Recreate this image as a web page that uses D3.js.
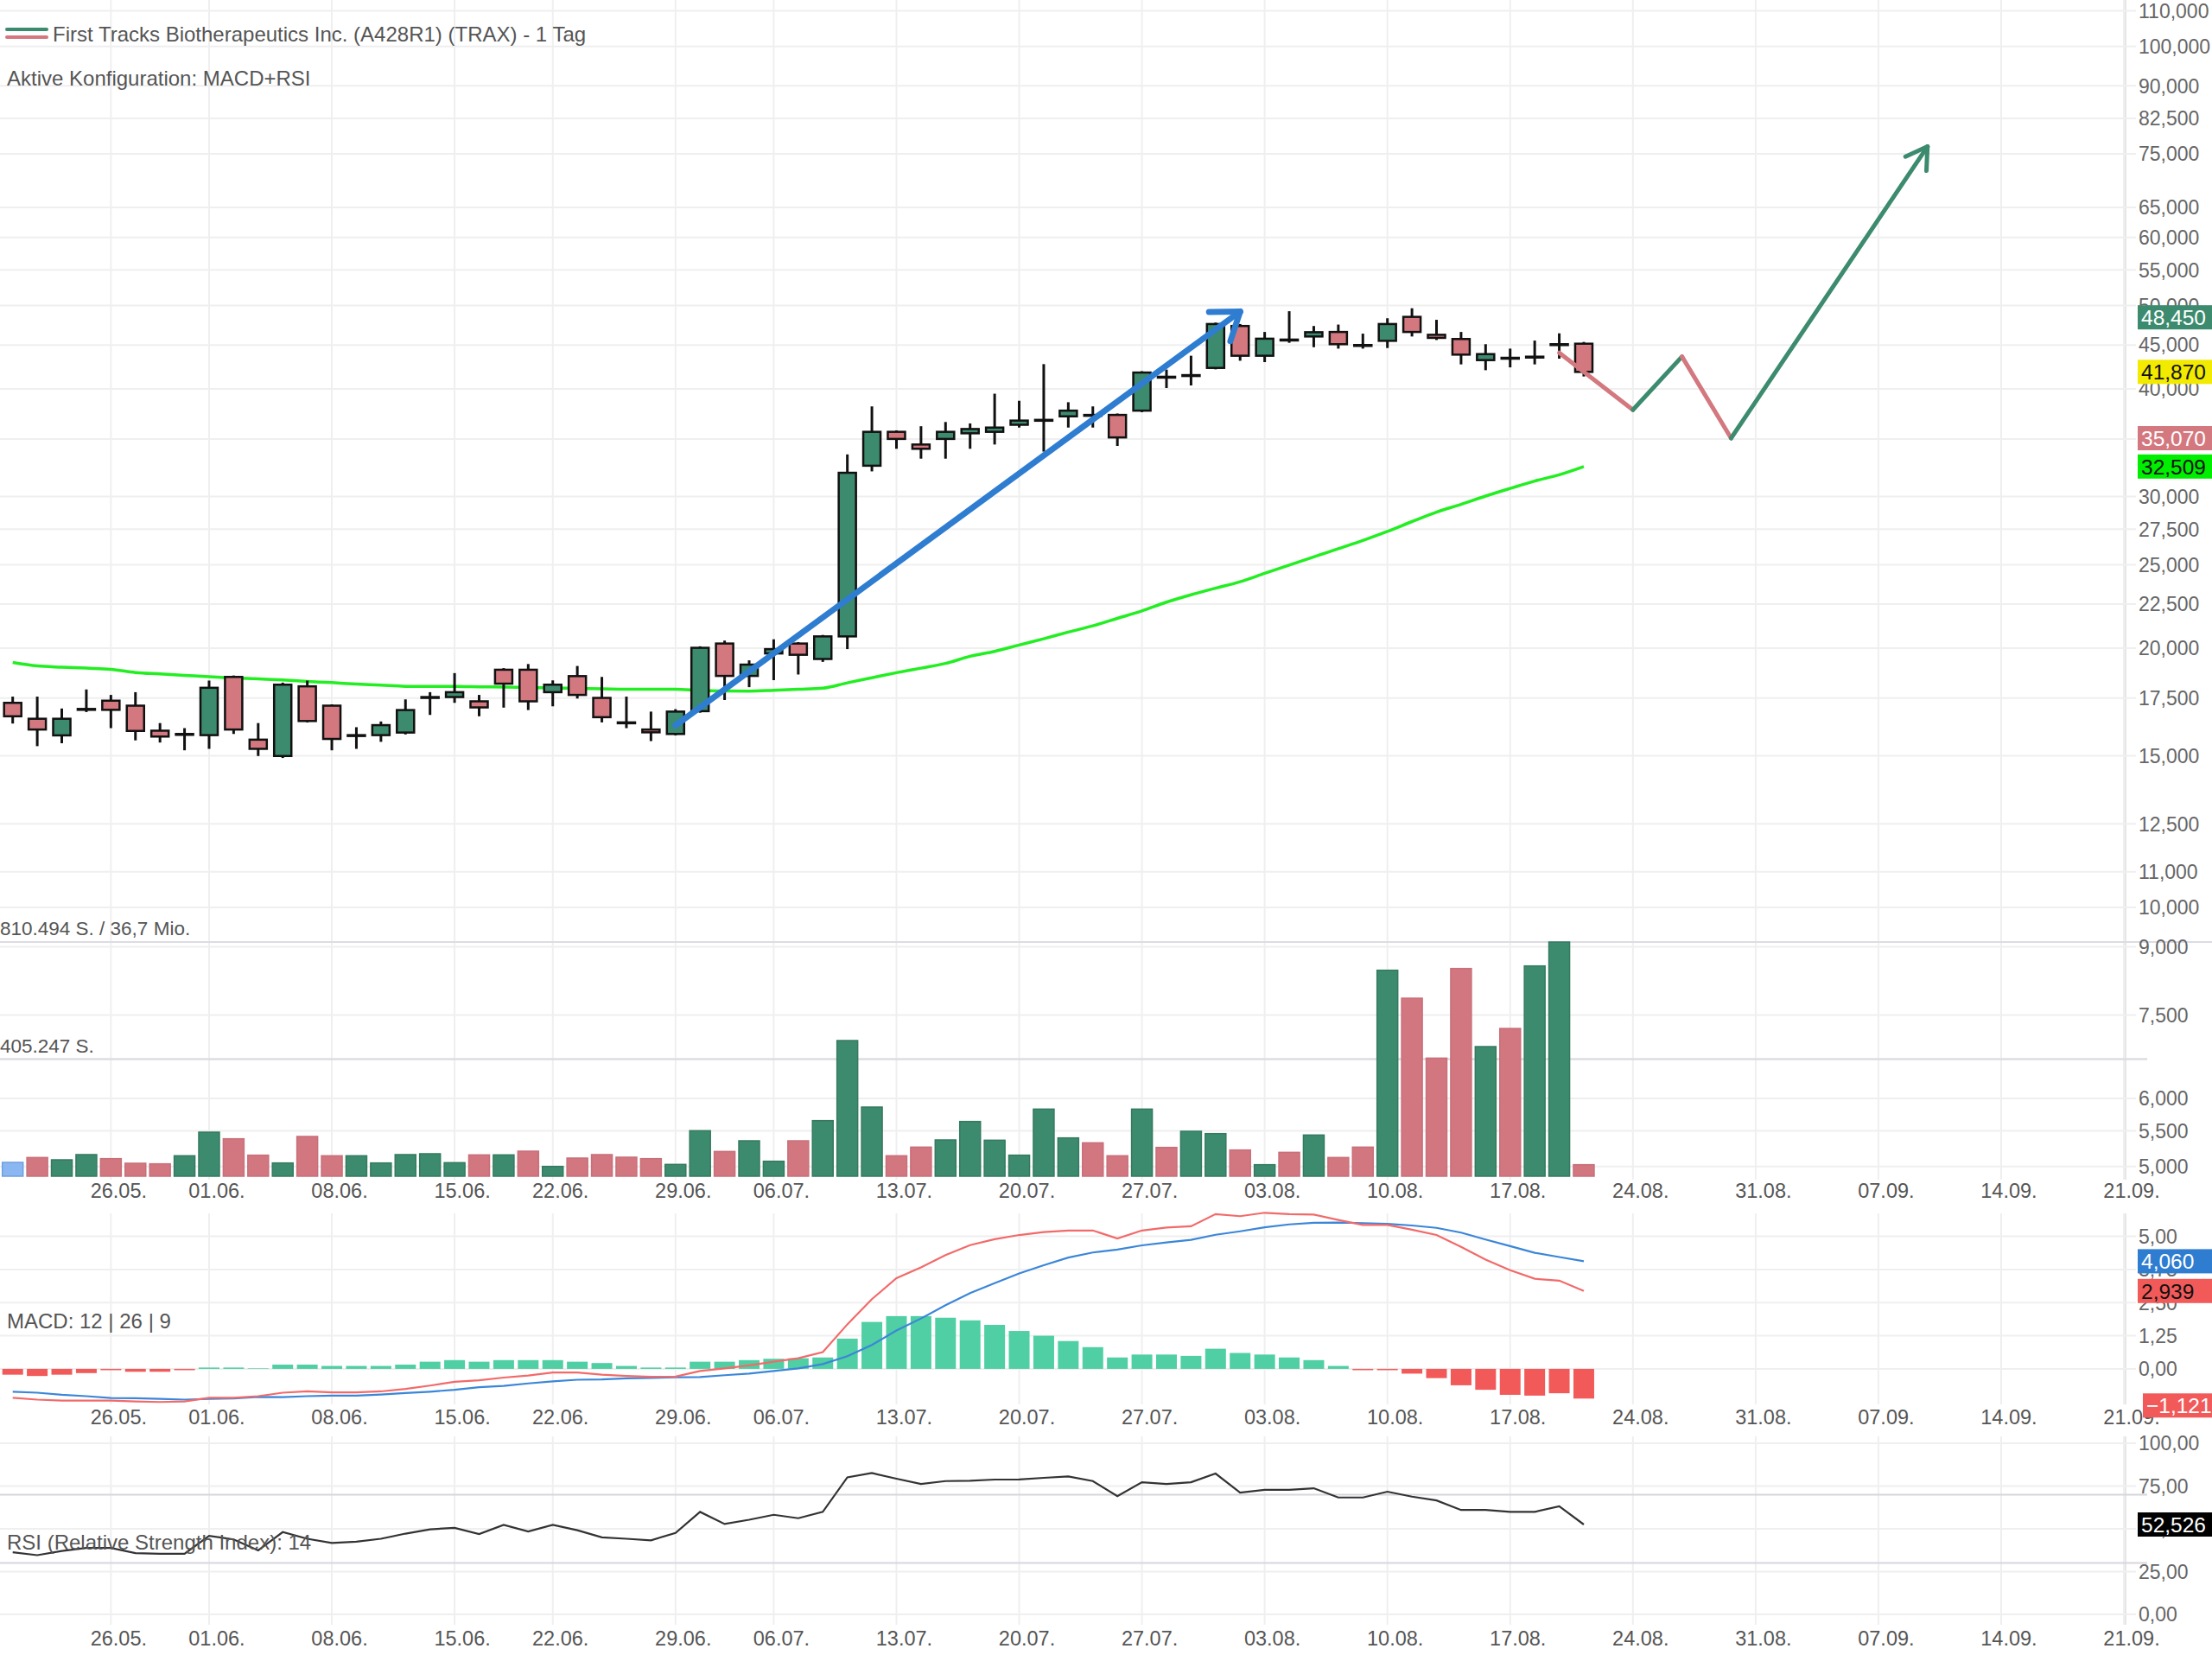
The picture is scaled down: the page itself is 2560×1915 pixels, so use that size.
<!DOCTYPE html>
<html>
<head>
<meta charset="utf-8">
<script src="https://cdn.jsdelivr.net/npm/d3@7"></script>
<style>
  html, body { margin: 0; padding: 0; background: #fff; }
  svg { display: block; font-family: "Liberation Sans", Arial, sans-serif; }
</style>
</head>
<body>
<svg id="chart" width="2560" height="1915"></svg>
<script>
// trading days (and the empty days to the right of the last candle)
const dates = [
  "19.05.","20.05.","21.05.","22.05.","26.05.","27.05.","28.05.","29.05.",
  "01.06.","02.06.","03.06.","04.06.","05.06.","08.06.","09.06.","10.06.","11.06.","12.06.",
  "15.06.","16.06.","17.06.","18.06.","22.06.","23.06.","24.06.","25.06.","26.06.",
  "29.06.","30.06.","01.07.","02.07.","06.07.","07.07.","08.07.","09.07.","10.07.",
  "13.07.","14.07.","15.07.","16.07.","17.07.","20.07.","21.07.","22.07.","23.07.","24.07.",
  "27.07.","28.07.","29.07.","30.07.","31.07.","03.08.","04.08.","05.08.","06.08.","07.08.",
  "10.08.","11.08.","12.08.","13.08.","14.08.","17.08.","18.08.","19.08.","20.08.",
  "21.08.","24.08.","25.08.","26.08.","27.08.","28.08.","31.08.","01.09.","02.09.","03.09.","04.09.",
  "07.09.","08.09.","09.09.","10.09.","11.09.","14.09.","15.09.","16.09.","17.09.","18.09.","21.09."
];
const tickDates = ["26.05.","01.06.","08.06.","15.06.","22.06.","29.06.","06.07.","13.07.","20.07.",
  "27.07.","03.08.","10.08.","17.08.","24.08.","31.08.","07.09.","14.09.","21.09."];

const open = [17.28,16.56,15.84,17.00,17.38,17.15,16.04,15.90,15.85,18.52,15.66,14.99,18.06,17.15,15.85,15.85,
  15.96,17.55,17.55,17.35,18.88,18.88,17.78,18.56,17.51,16.40,16.09,15.90,16.90,20.25,18.57,19.72,20.25,19.43,
  20.64,32.58,35.67,34.48,35.00,35.53,35.67,36.35,36.83,37.18,37.32,37.32,37.75,41.33,41.51,42.32,47.34,43.72,
  45.65,46.03,46.59,44.99,45.50,48.51,46.24,45.72,43.21,43.48,43.61,45.09,45.15];
const high = [17.57,17.57,17.02,17.91,17.65,17.78,16.37,16.15,18.34,18.59,16.37,18.24,18.34,17.21,16.19,16.44,
  17.44,17.78,18.71,17.65,18.96,19.17,18.35,19.07,18.52,17.57,16.88,16.99,20.10,20.41,19.36,20.48,20.33,20.72,
  33.58,38.18,35.81,36.21,36.62,36.48,39.50,38.76,42.75,38.61,38.18,37.46,41.95,42.13,43.72,47.77,47.59,46.59,
  49.25,47.34,47.52,46.38,48.33,49.64,48.13,46.59,45.09,44.56,45.53,46.42,45.36];
const low = [16.35,15.39,15.51,16.86,16.15,15.63,15.54,15.22,15.28,15.90,14.99,14.91,16.40,15.22,15.28,15.57,
  15.88,16.73,17.28,16.67,17.06,16.95,17.12,17.48,16.40,16.15,15.60,15.84,16.83,17.41,18.02,18.36,18.64,19.28,
  19.95,32.09,34.09,33.20,33.20,34.09,34.48,36.08,33.83,36.08,36.08,34.35,37.60,40.10,40.38,42.16,43.14,42.98,
  45.26,44.73,44.56,44.56,44.63,46.03,45.60,42.72,42.06,42.38,42.72,43.38,41.36];
const close = [16.67,16.09,16.56,16.99,16.96,16.03,15.79,15.90,17.99,16.09,15.28,18.14,16.46,15.69,15.85,16.28,
  16.95,17.55,17.78,17.07,18.19,17.35,18.14,17.65,16.63,16.40,15.97,16.88,20.02,18.57,19.14,19.95,19.65,20.64,
  31.97,35.67,35.00,34.09,35.67,35.94,36.08,36.76,36.83,37.75,37.32,35.14,41.80,41.33,41.51,47.59,43.72,45.76,
  45.65,46.56,45.09,44.99,47.59,46.59,45.86,43.85,43.91,43.48,43.61,45.09,41.87];
const volume = [47900,64800,56800,74800,60800,44900,42900,70800,152500,129600,72800,45900,137600,70800,70800,
  45900,74800,77800,46900,73800,73800,86700,33900,62800,74800,65800,60800,40900,157500,85700,122600,51800,
  122600,192400,469500,239300,70800,100700,125600,189400,124600,72800,232300,132600,115600,70800,232300,99700,
  155500,147500,90700,39900,82700,142600,64800,100700,712800,616100,408700,718800,448600,511400,727700,810494,39900];
const sma = [19.25,19.07,19.01,18.96,18.90,18.74,18.67,18.60,18.53,18.47,18.42,18.37,18.30,18.24,18.17,18.12,
  18.06,18.06,18.06,18.04,18.02,18.00,17.98,17.96,17.94,17.92,17.92,17.92,17.86,17.84,17.83,17.87,17.92,17.97,
  18.23,18.48,18.73,18.96,19.20,19.57,19.83,20.17,20.51,20.88,21.23,21.66,22.10,22.62,23.07,23.48,23.89,24.43,
  24.98,25.53,26.10,26.68,27.33,28.06,28.78,29.38,30.04,30.66,31.27,31.80,32.509];
const macdLine = [-1.09,-1.16,-1.20,-1.20,-1.20,-1.23,-1.25,-1.23,-1.09,-1.09,-1.03,-0.90,-0.85,-0.89,-0.89,-0.85,
  -0.76,-0.63,-0.49,-0.43,-0.33,-0.25,-0.14,-0.14,-0.22,-0.27,-0.30,-0.29,-0.08,0.02,0.13,0.27,0.40,0.63,1.68,
  2.63,3.42,3.83,4.29,4.67,4.89,5.05,5.16,5.22,5.22,4.92,5.22,5.33,5.38,5.84,5.76,5.89,5.84,5.82,5.62,5.43,5.43,
  5.25,5.05,4.60,4.12,3.72,3.40,3.33,2.939];
const signalLine = [-0.86,-0.90,-0.98,-1.03,-1.10,-1.11,-1.13,-1.16,-1.13,-1.12,-1.06,-1.07,-1.03,-1.01,-1.01,
  -0.97,-0.91,-0.86,-0.79,-0.69,-0.64,-0.55,-0.47,-0.41,-0.40,-0.36,-0.34,-0.32,-0.31,-0.24,-0.18,-0.08,0.02,
  0.18,0.48,0.90,1.45,1.90,2.40,2.86,3.23,3.60,3.91,4.20,4.39,4.50,4.66,4.77,4.87,5.06,5.19,5.34,5.45,5.51,5.52,
  5.50,5.47,5.41,5.32,5.14,4.88,4.63,4.38,4.22,4.06];
const macdHist = [-0.22,-0.27,-0.22,-0.16,-0.05,-0.11,-0.11,-0.05,0.05,0.05,0.02,0.16,0.16,0.11,0.11,0.11,0.16,
  0.27,0.33,0.27,0.33,0.33,0.33,0.27,0.22,0.11,0.05,0.05,0.27,0.27,0.33,0.38,0.40,0.43,1.14,1.77,1.99,1.99,1.93,
  1.83,1.66,1.43,1.25,1.05,0.82,0.43,0.54,0.54,0.49,0.76,0.60,0.54,0.43,0.33,0.11,-0.05,-0.05,-0.18,-0.35,-0.62,
  -0.79,-0.98,-1.01,-0.92,-1.12103];
const rsi = [36.3,34.6,37.1,38.8,38.8,35.8,35.4,35.4,45.9,43.8,37.4,48.1,44.2,41.7,42.5,44.2,47.2,49.7,50.6,46.9,
  52.3,48.4,52.3,49.2,45.0,44.2,43.3,47.6,59.9,52.8,55.3,58.2,56.2,59.9,80.1,82.6,79.3,76.2,77.9,78.1,78.8,78.9,
  79.8,80.6,77.9,69.1,77.2,76.2,77.2,82.3,71.2,72.8,72.8,73.7,68.3,68.3,71.7,68.8,66.6,61.0,61.0,59.9,59.9,63.2,52.526];

const priceTicks = [110,100,90,82.5,75,65,60,55,50,45,40,35,30,27.5,25,22.5,20,17.5,15,12.5,11,10,9,7.5,6,5.5,5];
const macdTicks = [5,3.75,2.5,1.25,0];
const rsiTicks = [100,75,50,25,0];
const rsiBands = [70,30];

// hand drawings on the chart
const trendArrow = [{d: "29.06.", p: 16.27}, {d: "31.07.", p: 49.2}];
const forecast = [{d: "19.08.", p: 44.07}, {d: "24.08.", p: 37.83}, {d: "26.08.", p: 43.62},
  {d: "28.08.", p: 35.07}, {d: "09.09.", p: 76.5}];
const priceMarks = [
  {v: 48.45, bg: "#3d8b6e", fg: "#fff"},
  {v: 41.87, bg: "#f2ea00", fg: "#111"},
  {v: 35.07, bg: "#d4787f", fg: "#fff"},
  {v: 32.509, bg: "#00ee00", fg: "#111"}
];

// layout
const plotRight = 2460;
const labelX = 2475;
const panes = {
  price: [0, 1365],
  macd: [1404, 1625],
  rsi: [1662, 1880]
};
const green = "#3d8b6e", red = "#d4787f", grid = "#efefef";

const de = d3.formatLocale({decimal: ",", thousands: ".", grouping: [3], currency: ["", ""]});
const f3 = de.format(".3f"), f2 = de.format(".2f"), f5 = de.format(".5f"), fInt = de.format(",d");

const svg = d3.select("#chart");

const x = d3.scaleLinear().domain([0, dates.length - 1]).range([14.7, 2458]);
const xd = d => x(dates.indexOf(d));
const y = d3.scaleLog().domain([4.85, 113.2]).range([1363, 0]);
const yVol = d3.scaleLinear().domain([0, d3.max(volume)]).range([1361, 1090]);
const yMacd = d3.scaleLinear().domain([-1.34, 6.16]).range([1625, 1395]);
const yRsi = d3.scaleLinear().domain([0, 100]).range([1868, 1670]);

const candles = open.map((o, i) => ({i, o, h: high[i], l: low[i], c: close[i], v: volume[i]}));

// vertical grid lines and right border, per pane
const gridG = svg.append("g");
Object.values(panes).forEach(([t, b]) => {
  gridG.selectAll(null).data(tickDates).join("line")
    .attr("x1", d => xd(d)).attr("x2", d => xd(d))
    .attr("y1", t).attr("y2", b)
    .attr("stroke", grid).attr("stroke-width", 2);
  gridG.append("line").attr("x1", plotRight).attr("x2", plotRight)
    .attr("y1", t).attr("y2", b).attr("stroke", "#e6e6e6").attr("stroke-width", 2);
});

// horizontal grid
gridG.selectAll(null).data(priceTicks).join("line")
  .attr("x1", 0).attr("x2", labelX - 3)
  .attr("y1", d => y(d)).attr("y2", d => y(d))
  .attr("stroke", grid).attr("stroke-width", 2);
gridG.selectAll(null).data(macdTicks).join("line")
  .attr("x1", 0).attr("x2", labelX - 3)
  .attr("y1", d => yMacd(d)).attr("y2", d => yMacd(d))
  .attr("stroke", grid).attr("stroke-width", 2);
gridG.selectAll(null).data(rsiTicks).join("line")
  .attr("x1", 0).attr("x2", labelX - 3)
  .attr("y1", d => yRsi(d)).attr("y2", d => yRsi(d))
  .attr("stroke", grid).attr("stroke-width", 2);
gridG.selectAll(null).data(rsiBands).join("line")
  .attr("x1", 0).attr("x2", 2485)
  .attr("y1", d => yRsi(d)).attr("y2", d => yRsi(d))
  .attr("stroke", "#d6d6de").attr("stroke-width", 2);

// volume reference lines
const volMax = d3.max(volume);
gridG.append("line").attr("x1", 0).attr("x2", 2560)
  .attr("y1", yVol(volMax)).attr("y2", yVol(volMax))
  .attr("stroke", "#dcdce2").attr("stroke-width", 2);
gridG.append("line").attr("x1", 0).attr("x2", 2485)
  .attr("y1", yVol(volMax / 2)).attr("y2", yVol(volMax / 2))
  .attr("stroke", "#dcdce2").attr("stroke-width", 2.5);

// volume bars
const barW = 24;
svg.append("g").selectAll("rect").data(candles).join("rect")
  .attr("x", d => x(d.i) - barW / 2)
  .attr("width", barW)
  .attr("y", d => yVol(d.v))
  .attr("height", d => yVol(0) - yVol(d.v))
  .attr("fill", d => d.i === 0 ? "#8ab6f2" : (d.c >= close[d.i - 1] ? green : "#d27680"))
  .attr("stroke", d => d.i === 0 ? "#6f9fe0" : (d.c >= close[d.i - 1] ? "#357a60" : "#c8707a"))
  .attr("stroke-width", 1.5);

const volLabels = svg.append("g").attr("font-size", 22.5).attr("fill", "#555");
volLabels.append("text").attr("x", 0).attr("y", yVol(volMax) - 8)
  .text(fInt(volMax) + " S. / 36,7 Mio.");
volLabels.append("text").attr("x", 0).attr("y", yVol(volMax / 2) - 8)
  .text(fInt(volMax / 2) + " S.");

// moving average
svg.append("path").datum(sma)
  .attr("fill", "none").attr("stroke", "#22ee22").attr("stroke-width", 3.5)
  .attr("d", d3.line().x((d, i) => x(i)).y(d => y(d)).curve(d3.curveMonotoneX));

// candles
const bodyW = 20;
const cg = svg.append("g");
cg.selectAll("line").data(candles).join("line")
  .attr("x1", d => x(d.i)).attr("x2", d => x(d.i))
  .attr("y1", d => y(d.h)).attr("y2", d => y(d.l))
  .attr("stroke", "#111").attr("stroke-width", 3);
cg.selectAll("rect").data(candles).join("rect")
  .attr("x", d => x(d.i) - bodyW / 2)
  .attr("width", bodyW)
  .attr("y", d => y(Math.max(d.o, d.c)))
  .attr("height", d => Math.max(1, Math.abs(y(d.o) - y(d.c))))
  .attr("fill", d => d.c >= d.o ? green : red)
  .attr("stroke", "#111").attr("stroke-width", 2.5);

// arrows
function arrowHead(g, p0, p1, len, ang, color, w) {
  const a = Math.atan2(p0[1] - p1[1], p0[0] - p1[0]);
  [a - ang, a + ang].forEach(t => {
    g.append("line")
      .attr("x1", p1[0]).attr("y1", p1[1])
      .attr("x2", p1[0] + len * Math.cos(t)).attr("y2", p1[1] + len * Math.sin(t))
      .attr("stroke", color).attr("stroke-width", w).attr("stroke-linecap", "round");
  });
}

const drawG = svg.append("g");
const ta = trendArrow.map(d => [xd(d.d), y(d.p)]);
drawG.append("line")
  .attr("x1", ta[0][0]).attr("y1", ta[0][1]).attr("x2", ta[1][0]).attr("y2", ta[1][1])
  .attr("stroke", "#2f7dd1").attr("stroke-width", 7).attr("stroke-linecap", "round");
arrowHead(drawG, ta[0], ta[1], 36, 0.62, "#2f7dd1", 7);

const fp = forecast.map(d => [xd(d.d), y(d.p), d.p]);
d3.pairs(fp).forEach(([a, b]) => {
  drawG.append("line")
    .attr("x1", a[0]).attr("y1", a[1]).attr("x2", b[0]).attr("y2", b[1])
    .attr("stroke", b[2] < a[2] ? red : green).attr("stroke-width", 5).attr("stroke-linecap", "round");
});
arrowHead(drawG, fp[fp.length - 2], fp[fp.length - 1], 28, 0.55, green, 5);

// MACD
const mg = svg.append("g");
mg.selectAll("rect").data(macdHist).join("rect")
  .attr("x", (d, i) => x(i) - barW / 2)
  .attr("width", barW)
  .attr("y", d => Math.min(yMacd(d), yMacd(0)))
  .attr("height", d => Math.abs(yMacd(d) - yMacd(0)))
  .attr("fill", d => d >= 0 ? "#4fcfa3" : "#f25a5a");
mg.append("path").datum(signalLine)
  .attr("fill", "none").attr("stroke", "#3b86d8").attr("stroke-width", 2.2)
  .attr("d", d3.line().x((d, i) => x(i)).y(d => yMacd(d)));
mg.append("path").datum(macdLine)
  .attr("fill", "none").attr("stroke", "#f26a6a").attr("stroke-width", 2.2)
  .attr("d", d3.line().x((d, i) => x(i)).y(d => yMacd(d)));

// RSI
svg.append("path").datum(rsi)
  .attr("fill", "none").attr("stroke", "#333").attr("stroke-width", 2.2)
  .attr("d", d3.line().x((d, i) => x(i)).y(d => yRsi(d)));

// date labels under each pane
const axisG = svg.append("g").attr("font-size", 23.5).attr("fill", "#555");
[1386, 1648, 1904].forEach(yy => {
  axisG.selectAll(null).data(tickDates).join("text")
    .attr("x", d => xd(d) + 9).attr("y", yy)
    .attr("text-anchor", "middle")
    .text(d => d);
});

// right scale labels
const rg = svg.append("g").attr("font-size", 23).attr("fill", "#666");
rg.selectAll(null).data(priceTicks).join("text")
  .attr("x", labelX).attr("y", d => y(d)).attr("dy", "0.36em").text(d => f3(d));
rg.selectAll(null).data(macdTicks).join("text")
  .attr("x", labelX).attr("y", d => yMacd(d)).attr("dy", "0.36em").text(d => f2(d));
rg.selectAll(null).data(rsiTicks).join("text")
  .attr("x", labelX).attr("y", d => yRsi(d)).attr("dy", "0.36em").text(d => f2(d));

// current value boxes
function valueBox(yy, txt, bg, fg, x0) {
  const g = svg.append("g");
  g.append("rect").attr("x", x0).attr("y", yy - 14).attr("width", 2560 - x0).attr("height", 28).attr("fill", bg);
  g.append("text").attr("x", x0 + 4).attr("y", yy).attr("dy", "0.36em")
    .attr("font-size", 24.5).attr("fill", fg).text(txt);
}
priceMarks.forEach(m => valueBox(y(m.v), f3(m.v), m.bg, m.fg, 2474));
const last = macdLine.length - 1;
valueBox(yMacd(signalLine[last]), f3(signalLine[last]), "#2f7dd1", "#fff", 2474);
valueBox(yMacd(macdLine[last]), f3(macdLine[last]), "#f25a5a", "#111", 2474);
valueBox(yMacd(macdHist[last]) + 8, f5(macdHist[last]), "#f25a5a", "#fff", 2480);
valueBox(yRsi(rsi[last]), f3(rsi[last]), "#000", "#fff", 2474);

// header and pane titles
const hg = svg.append("g").attr("font-size", 24).attr("fill", "#555");
hg.append("line").attr("x1", 8).attr("x2", 54).attr("y1", 34).attr("y2", 34)
  .attr("stroke", green).attr("stroke-width", 4).attr("stroke-linecap", "round");
hg.append("line").attr("x1", 8).attr("x2", 54).attr("y1", 43).attr("y2", 43)
  .attr("stroke", red).attr("stroke-width", 4).attr("stroke-linecap", "round");
hg.append("text").attr("x", 61).attr("y", 39).attr("dy", "0.36em")
  .text("First Tracks Biotherapeutics Inc. (A428R1) (TRAX) - 1 Tag");
hg.append("text").attr("x", 8).attr("y", 90).attr("dy", "0.36em")
  .text("Aktive Konfiguration: MACD+RSI");
hg.append("text").attr("x", 8).attr("y", 1528).attr("dy", "0.36em")
  .text("MACD: 12 | 26 | 9");
hg.append("text").attr("x", 8).attr("y", 1784).attr("dy", "0.36em")
  .text("RSI (Relative Strength Index): 14");
</script>
</body>
</html>
